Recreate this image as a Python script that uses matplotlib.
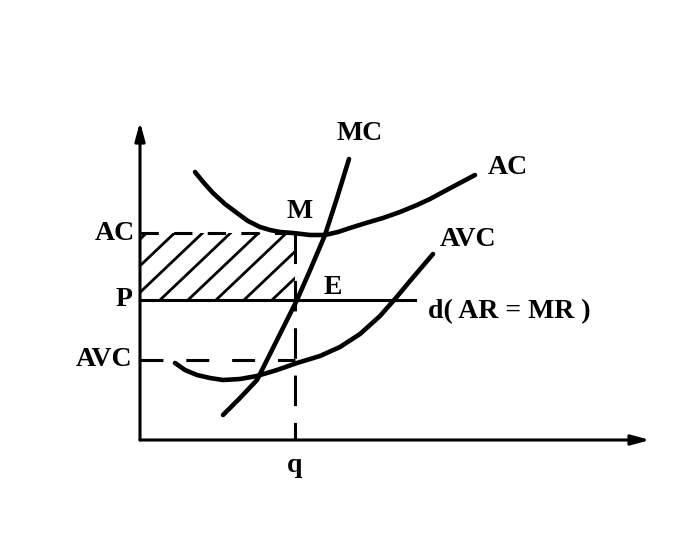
import numpy as np
import matplotlib
matplotlib.use("Agg")
from matplotlib import pyplot as plt
from matplotlib.patches import Rectangle

# values (origin at the axes corner)
ac_x = [55, 64, 73, 85, 97, 108, 120, 130, 140, 153, 170, 185, 198, 210, 226, 243, 260, 277, 290, 303, 318, 335]
ac_y = [268, 257, 247, 236, 227, 219, 213, 210, 208, 207, 205, 205, 208, 212, 217, 222, 228, 235, 241, 248, 256, 265]

mc_x = [83, 100, 117, 137, 157, 171, 185, 197, 209]
mc_y = [25, 42, 60, 100, 140, 172, 205, 242, 281]

avc_x = [35, 45, 57, 70, 83, 100, 117, 137, 157, 180, 200, 220, 240, 255, 270, 293]
avc_y = [77, 70, 65, 62, 60, 61, 64, 70, 77, 84, 93, 106, 124, 141, 159, 186]

price_p = 140
ac_level = 207
avc_level = 80
q = 155
x_max = 510
y_max = 318
d_end = 275

fig = plt.figure(figsize=(6.96, 5.46), dpi=100)
ax = fig.add_axes([0, 0, 1, 1])
ax.set_xlim(-140, 556)
ax.set_ylim(-106, 440)
ax.axis("off")

black = "black"
font = dict(family="Liberation Serif", fontweight="bold", fontsize=20, color=black)

# axes with arrows
ax.annotate("", xy=(x_max, 0), xytext=(0, 0),
            arrowprops=dict(arrowstyle="-|>,head_length=1.1,head_width=0.3", lw=2.2, color=black,
                            shrinkA=0, shrinkB=0))
ax.annotate("", xy=(0, y_max), xytext=(0, 0),
            arrowprops=dict(arrowstyle="-|>,head_length=1.1,head_width=0.3", lw=2.2, color=black,
                            shrinkA=0, shrinkB=0))

# hatched rectangle between P and AC
rect = Rectangle((0, price_p), q, ac_level - price_p, fill=False, lw=0)
ax.add_patch(rect)
slope = 0.95
for x0 in np.arange(-64, q + 28, 28):
    xs = np.array([x0, x0 + 200])
    hl, = ax.plot(xs, price_p + (xs - x0) * slope, color=black, lw=2.0)
    hl.set_clip_path(rect)

# price line d(AR = MR)
ax.plot([0, d_end], [price_p, price_p], color=black, lw=2.2)

# dashed guides
ax.plot([0, q], [ac_level, ac_level], color=black, lw=2.2, dashes=(6, 5))
ax.plot([0, q], [avc_level, avc_level], color=black, lw=2.2, dashes=(7.5, 7.5))
ax.plot([q, q], [ac_level, 0], color=black, lw=2.2, dashes=(10, 5.5))

# cost curves
for xs, ys in [(ac_x, ac_y), (mc_x, mc_y), (avc_x, avc_y)]:
    ax.plot(xs, ys, color=black, lw=3.3, solid_capstyle="round", solid_joinstyle="round")

# labels
ax.text(-5, ac_level, "AC", ha="right", va="center", **font)
ax.text(-8, price_p, "P", ha="right", va="center", **font)
ax.text(-8, avc_level, "AVC", ha="right", va="center", **font)
ax.text(q, -25, "q", ha="center", va="center", **font)
ax.text(160, 228, "M", ha="center", va="center", **font)
ax.text(193, 153, "E", ha="center", va="center", **font)
ax.text(220, 307, "MC", ha="center", va="center", **font)
ax.text(348, 273, "AC", ha="left", va="center", **font)
ax.text(300, 200, "AVC", ha="left", va="center", **font)
ax.text(288, 128, "d( AR = MR )", ha="left", va="center", **font)

fig.savefig("out.png", dpi=100)
